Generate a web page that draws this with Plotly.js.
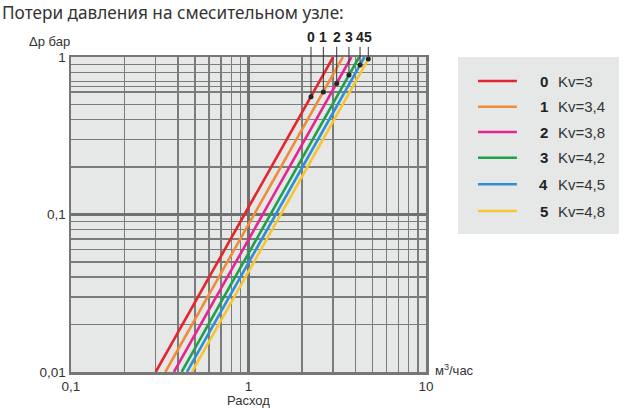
<!DOCTYPE html>
<html>
<head>
<meta charset="utf-8">
<script src="https://cdn.plot.ly/plotly-3.0.1.min.js"></script>
<style>html,body{margin:0;padding:0;background:#fff;}#chart{width:627px;height:412px;}</style>
</head>
<body>
<div id="chart"></div>
<script>
// Data
const labels = ['0', '1', '2', '3', '4', '5'];
const kvValues = ['3', '3,4', '3,8', '4,2', '4,5', '4,8'];
const flowAtLow = [0.3, 0.34, 0.38, 0.42, 0.45, 0.48];   // flow at Δp = 0.01
const flowAtHigh = [3, 3.4, 3.8, 4.2, 4.5, 4.8];          // flow at Δp = 1
const pressureLow = 0.01;
const pressureHigh = 1;
const dotFlow = [2.25, 2.64, 3.14, 3.68, 4.25, 4.73];
const dotPressure = [0.56, 0.60, 0.68, 0.77, 0.89, 0.97];
const colors = ['#e3262c', '#f08b3a', '#e2278f', '#21a04b', '#2f8fd6', '#f6c532'];
const xTickVals = [0.1, 1, 10];
const xTickText = ['0,1', '1', '10'];
const xMinorVals = [0.2, 0.3, 0.4, 0.5, 0.6, 0.7, 0.8, 0.9, 2, 3, 4, 5, 6, 7, 8, 9];
const yTickVals = [0.01, 0.1, 1];
const yTickText = ['0,01', '0,1', '1'];
const yMinorVals = [0.02, 0.03, 0.04, 0.05, 0.06, 0.07, 0.08, 0.09, 0.2, 0.3, 0.4, 0.5, 0.6, 0.65, 0.7, 0.8, 0.9];

const font = 'Liberation Sans, Arial, sans-serif';
const traces = labels.map((l, i) => ({
  type: 'scatter', mode: 'lines',
  x: [flowAtLow[i], flowAtHigh[i]], y: [pressureLow, pressureHigh],
  line: {color: colors[i], width: 2.6}, showlegend: false, hoverinfo: 'skip'
}));
traces.push({
  type: 'scatter', mode: 'markers', x: dotFlow, y: dotPressure,
  marker: {color: '#222', size: 5}, cliponaxis: false, showlegend: false, hoverinfo: 'skip'
});

const annotations = labels.map((l, i) => ({
  x: Math.log10(dotFlow[i]), y: Math.log10(dotPressure[i]), xref: 'x', yref: 'y',
  text: '<b>' + l + '</b>', showarrow: true, arrowhead: 0, arrowwidth: 1, arrowcolor: '#333',
  axref: 'x', ayref: 'y', ax: Math.log10(dotFlow[i]), ay: 0.125, standoff: 0,
  font: {family: font, size: 14, color: '#222'}
}));

// Custom legend
const shapes = [{
  type: 'rect', xref: 'paper', yref: 'paper', x0: 1.090, x1: 1.5437, y0: 0.438, y1: 1.0,
  fillcolor: '#e6e8e8', line: {width: 0}, layer: 'below'
}];
const rowY = [0.9238, 0.8422, 0.7619, 0.6803, 0.5959, 0.5111];
labels.forEach((l, i) => {
  shapes.push({type: 'line', xref: 'paper', yref: 'paper', x0: 1.1465, x1: 1.256, y0: rowY[i], y1: rowY[i],
    line: {color: colors[i], width: 2.6}});
  annotations.push({xref: 'paper', yref: 'paper', x: 1.332, y: rowY[i], xanchor: 'center', yanchor: 'middle',
    text: '<b>' + l + '</b>', showarrow: false, font: {family: font, size: 15, color: '#222'}});
  annotations.push({xref: 'paper', yref: 'paper', x: 1.366, y: rowY[i], xanchor: 'left', yanchor: 'middle',
    text: 'Kv=' + kvValues[i], showarrow: false, font: {family: font, size: 15, color: '#333'}});
});

annotations.push({xref: 'paper', yref: 'paper', x: -0.125, y: 1.05, xanchor: 'left', yanchor: 'middle',
  text: 'Δp бар', showarrow: false, font: {family: font, size: 13, color: '#333'}});
annotations.push({xref: 'paper', yref: 'paper', x: 1.02, y: 0.005, xanchor: 'left', yanchor: 'middle',
  text: 'м<sup>3</sup>/час', showarrow: false, font: {family: font, size: 13, color: '#333'}});
annotations.push({xref: 'paper', yref: 'paper', x: 0.5, y: -0.09, xanchor: 'center', yanchor: 'middle',
  text: 'Расход', showarrow: false, font: {family: font, size: 13, color: '#333'}});
annotations.push({xref: 'paper', yref: 'paper', x: -0.2, y: 1.14, xanchor: 'left', yanchor: 'middle',
  text: 'Потери давления на смесительном узле:', showarrow: false,
  font: {family: 'Noto Sans, Open Sans, sans-serif', size: 17.2, color: '#333'}});

const layout = {
  width: 627, height: 412,
  margin: {l: 71, r: 201, t: 57, b: 40, pad: 0},
  paper_bgcolor: '#ffffff', plot_bgcolor: '#e6e8e8',
  showlegend: false,
  xaxis: {
    type: 'log', range: [-1, 1], tickvals: xTickVals, ticktext: xTickText,
    showgrid: true, gridcolor: '#6f7070', gridwidth: 2.5,
    minor: {tickvals: xMinorVals, showgrid: true, gridcolor: '#7a7b7b', gridwidth: 1.4, ticks: ''},
    showline: true, linecolor: '#777', linewidth: 2.5, mirror: true,
    ticks: '', zeroline: false, fixedrange: true,
    tickfont: {family: font, size: 13.5, color: '#333'}
  },
  yaxis: {
    type: 'log', range: [-2, 0], tickvals: yTickVals, ticktext: yTickText,
    showgrid: true, gridcolor: '#6f7070', gridwidth: 2.5,
    minor: {tickvals: yMinorVals, showgrid: true, gridcolor: '#7a7b7b', gridwidth: 1.4, ticks: ''},
    showline: true, linecolor: '#777', linewidth: 2.5, mirror: true,
    ticks: '', zeroline: false, fixedrange: true,
    tickfont: {family: font, size: 13.5, color: '#333'}
  },
  shapes: shapes,
  annotations: annotations
};

Plotly.newPlot('chart', traces, layout, {staticPlot: true, displayModeBar: false});
</script>
</body>
</html>
